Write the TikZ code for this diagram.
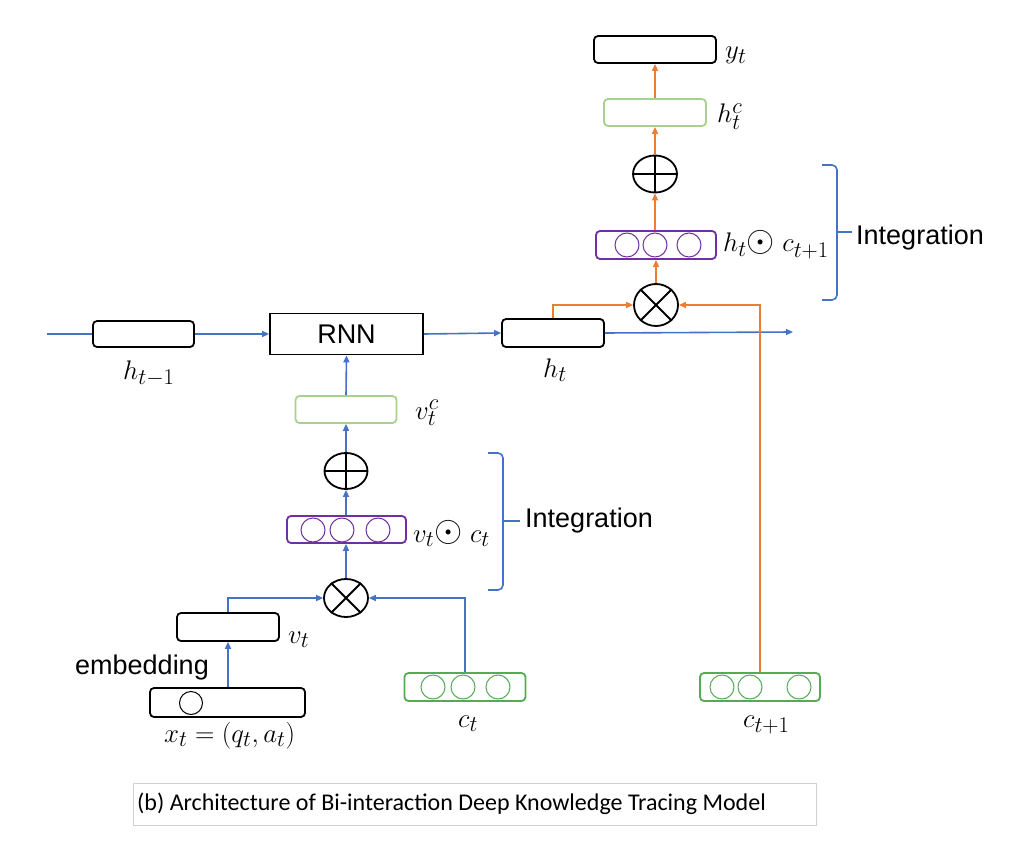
\documentclass[tikz,border=0pt]{standalone}
\usepackage{fontspec}
\usepackage{graphicx}
\newfontfamily\arialf{Liberation Sans}
\newfontfamily\calf{Carlito}
\usetikzlibrary{arrows.meta,shapes.geometric}
\definecolor{cblue}{HTML}{4472C4}
\definecolor{corange}{HTML}{ED7D31}
\definecolor{cpurple}{HTML}{7030A0}
\definecolor{clgreen}{HTML}{A9D18E}
\definecolor{cgreen}{HTML}{55AA55}
\definecolor{cgray}{HTML}{D0D0D0}
\newcommand{\mlab}[1]{\scalebox{1.08}{$#1$}}
\newcommand{\bodot}{\mathbin{\raisebox{0.5pt}{\scalebox{1.35}{$\odot$}}}}
\tikzset{
  boxst/.style={draw=black,line width=1.8pt,rounded corners=4pt,inner sep=0pt,fill=white},
  unitst/.style={circle,draw,line width=1pt,minimum size=24pt,inner sep=0pt},
  opst/.style={ellipse,draw=black,line width=1.8pt,inner sep=0pt,fill=white},
  bl/.style={draw=cblue,line width=1.6pt},
  orl/.style={draw=corange,line width=1.6pt},
  arr/.style={-{Triangle[length=7pt,width=6pt]}},
  mathlab/.style={inner sep=0pt,anchor=base west,font=\fontsize{24.88}{30}\selectfont},
  sanslab/.style={inner sep=0pt,font=\arialf\fontsize{27}{32}\selectfont},
  bracest/.style={draw=cblue,line width=1.6pt,rounded corners=5pt}
}
\begin{document}
\begin{tikzpicture}[x=1pt,y=-1pt]
\useasboundingbox (0,0) rectangle (1014,850);
% top chain
\node[boxst,minimum width=122pt,minimum height=27pt] (yt) at (655,49.5) {};
\node[boxst,draw=clgreen,minimum width=102pt,minimum height=27pt] (hc) at (655,112.5) {};
\node[opst,minimum width=44pt,minimum height=37pt] (oplusA) at (655,174) {};
\draw[line width=1.8pt] (oplusA.north)--(oplusA.south) (oplusA.west)--(oplusA.east);
\node[boxst,draw=cpurple,minimum width=120pt,minimum height=28pt] (purA) at (656,245) {};
\node[unitst,draw=cpurple] (pa1) at (627,245) {};
\node[unitst,draw=cpurple] (pa2) at (655,245) {};
\node[unitst,draw=cpurple] (pa3) at (689,245) {};
\node[opst,minimum width=44pt,minimum height=42pt] (otimesA) at (656,305) {};
\draw[line width=1.8pt] (otimesA.45)--(otimesA.225) (otimesA.135)--(otimesA.315);
% middle row
\coordinate (lstart) at (47,334);
\node[boxst,minimum width=101pt,minimum height=26pt] (hprev) at (143.5,334) {};
\node[draw=black,line width=1.8pt,inner sep=0pt,minimum width=153pt,minimum height=41pt,font=\arialf\fontsize{27}{32}\selectfont] (rnn) at (346.5,334) {RNN};
\node[boxst,minimum width=102pt,minimum height=28pt] (ht) at (553,333) {};
\coordinate (hend) at (793,332);
% lower chain
\node[boxst,draw=clgreen,minimum width=101pt,minimum height=27pt] (vc) at (346,409.5) {};
\node[opst,minimum width=43pt,minimum height=36pt] (oplusB) at (346,471) {};
\draw[line width=1.8pt] (oplusB.north)--(oplusB.south) (oplusB.west)--(oplusB.east);
\node[boxst,draw=cpurple,minimum width=119pt,minimum height=27pt] (purB) at (346.5,529.5) {};
\node[unitst,draw=cpurple] (pb1) at (313,530) {};
\node[unitst,draw=cpurple] (pb2) at (342,530) {};
\node[unitst,draw=cpurple] (pb3) at (378,530) {};
\node[opst,minimum width=44pt,minimum height=38pt] (otimesB) at (346,598) {};
\draw[line width=1.8pt] (otimesB.45)--(otimesB.225) (otimesB.135)--(otimesB.315);
\node[boxst,minimum width=102pt,minimum height=28pt] (vt) at (228,627) {};
\node[boxst,minimum width=155pt,minimum height=29pt] (xt) at (227.5,702.5) {};
\node[unitst,draw=black,minimum size=23pt] (xu) at (191,703) {};
\node[boxst,draw=cgreen,minimum width=121pt,minimum height=28pt] (ct) at (465,687) {};
\node[unitst,draw=cgreen] (c1) at (433,687) {};
\node[unitst,draw=cgreen] (c2) at (463,687) {};
\node[unitst,draw=cgreen] (c3) at (498,687) {};
\node[boxst,draw=cgreen,minimum width=120pt,minimum height=28pt] (ctn) at (760,687) {};
\node[unitst,draw=cgreen] (d1) at (722,687) {};
\node[unitst,draw=cgreen] (d2) at (750,687) {};
\node[unitst,draw=cgreen] (d3) at (799,687) {};
% blue connectors
\draw[bl] (lstart) -- (hprev.west);
\draw[bl,arr] (hprev.east) -- (rnn.west);
\draw[bl,arr] (rnn.east) -- (ht.west);
\draw[bl,arr] (ht.east) -- (hend);
\draw[bl,arr] (vc.north) -- (rnn.south);
\draw[bl,arr] (oplusB.north) -- (vc.south);
\draw[bl,arr] (purB.north -| oplusB) -- (oplusB.south);
\draw[bl,arr] (otimesB.north) -- (purB.south -| otimesB);
\draw[bl,arr] (vt.north) |- (otimesB.west);
\draw[bl,arr] (xt.north -| vt.south) -- (vt.south);
\draw[bl,arr] (ct.north) |- (otimesB.east);
% orange connectors
\draw[orl,arr] (ht.north) |- (otimesA.west);
\draw[orl,arr] (ctn.north) |- (otimesA.east);
\draw[orl,arr] (otimesA.north) -- (purA.south -| otimesA);
\draw[orl,arr] (purA.north -| oplusA) -- (oplusA.south);
\draw[orl,arr] (oplusA.north) -- (hc.south);
\draw[orl,arr] (hc.north) -- (yt.south);
% labels
\node[mathlab] (lyt) at (725,59) {\mlab{y_t}};
\node[mathlab] (lhc) at (717,123) {\mlab{h_t^c}};
\node[mathlab] (lhod) at (723,252) {\mlab{h_t{\bodot}\;c_{t+1}}};
\node[mathlab] (lhprev) at (123,379) {\mlab{h_{t-1}}};
\node[mathlab] (lht) at (543,377) {\mlab{h_t}};
\node[mathlab] (lvc) at (415,419) {\mlab{v_t^c}};
\node[mathlab] (lvod) at (413,542) {\mlab{v_t{\bodot}\;c_t}};
\node[mathlab] (lvt) at (288,643) {\mlab{v_t}};
\node[mathlab] (lxt) at (164,742) {\mlab{x_t=(q_t,a_t)}};
\node[mathlab] (lct) at (458,727) {\mlab{c_t}};
\node[mathlab] (lctn) at (743,727) {\mlab{c_{t+1}}};
\node[sanslab,anchor=west] (emb) at (75,668) {embedding};
% braces
\draw[bracest] (822,165) -- (837,165) -- (837,300) -- (822,300);
\draw[bracest,rounded corners=0pt] (837,232) -- (852,232);
\node[sanslab,anchor=west] (intA) at (856,238) {Integration};
\draw[bracest] (488,453) -- (503,453) -- (503,590) -- (488,590);
\draw[bracest,rounded corners=0pt] (503,521) -- (520,521);
\node[sanslab,anchor=west] (intB) at (525,521) {Integration};
% caption
\node[draw=cgray,line width=1pt,minimum width=683pt,minimum height=42pt,inner sep=0pt] (capbox) at (474.5,804) {};
\node[font=\calf\fontsize{24}{28}\selectfont,anchor=west,inner sep=0pt] (cap) at (137,804) {(b) Architecture of Bi-interaction Deep Knowledge Tracing Model};
\end{tikzpicture}
\end{document}
